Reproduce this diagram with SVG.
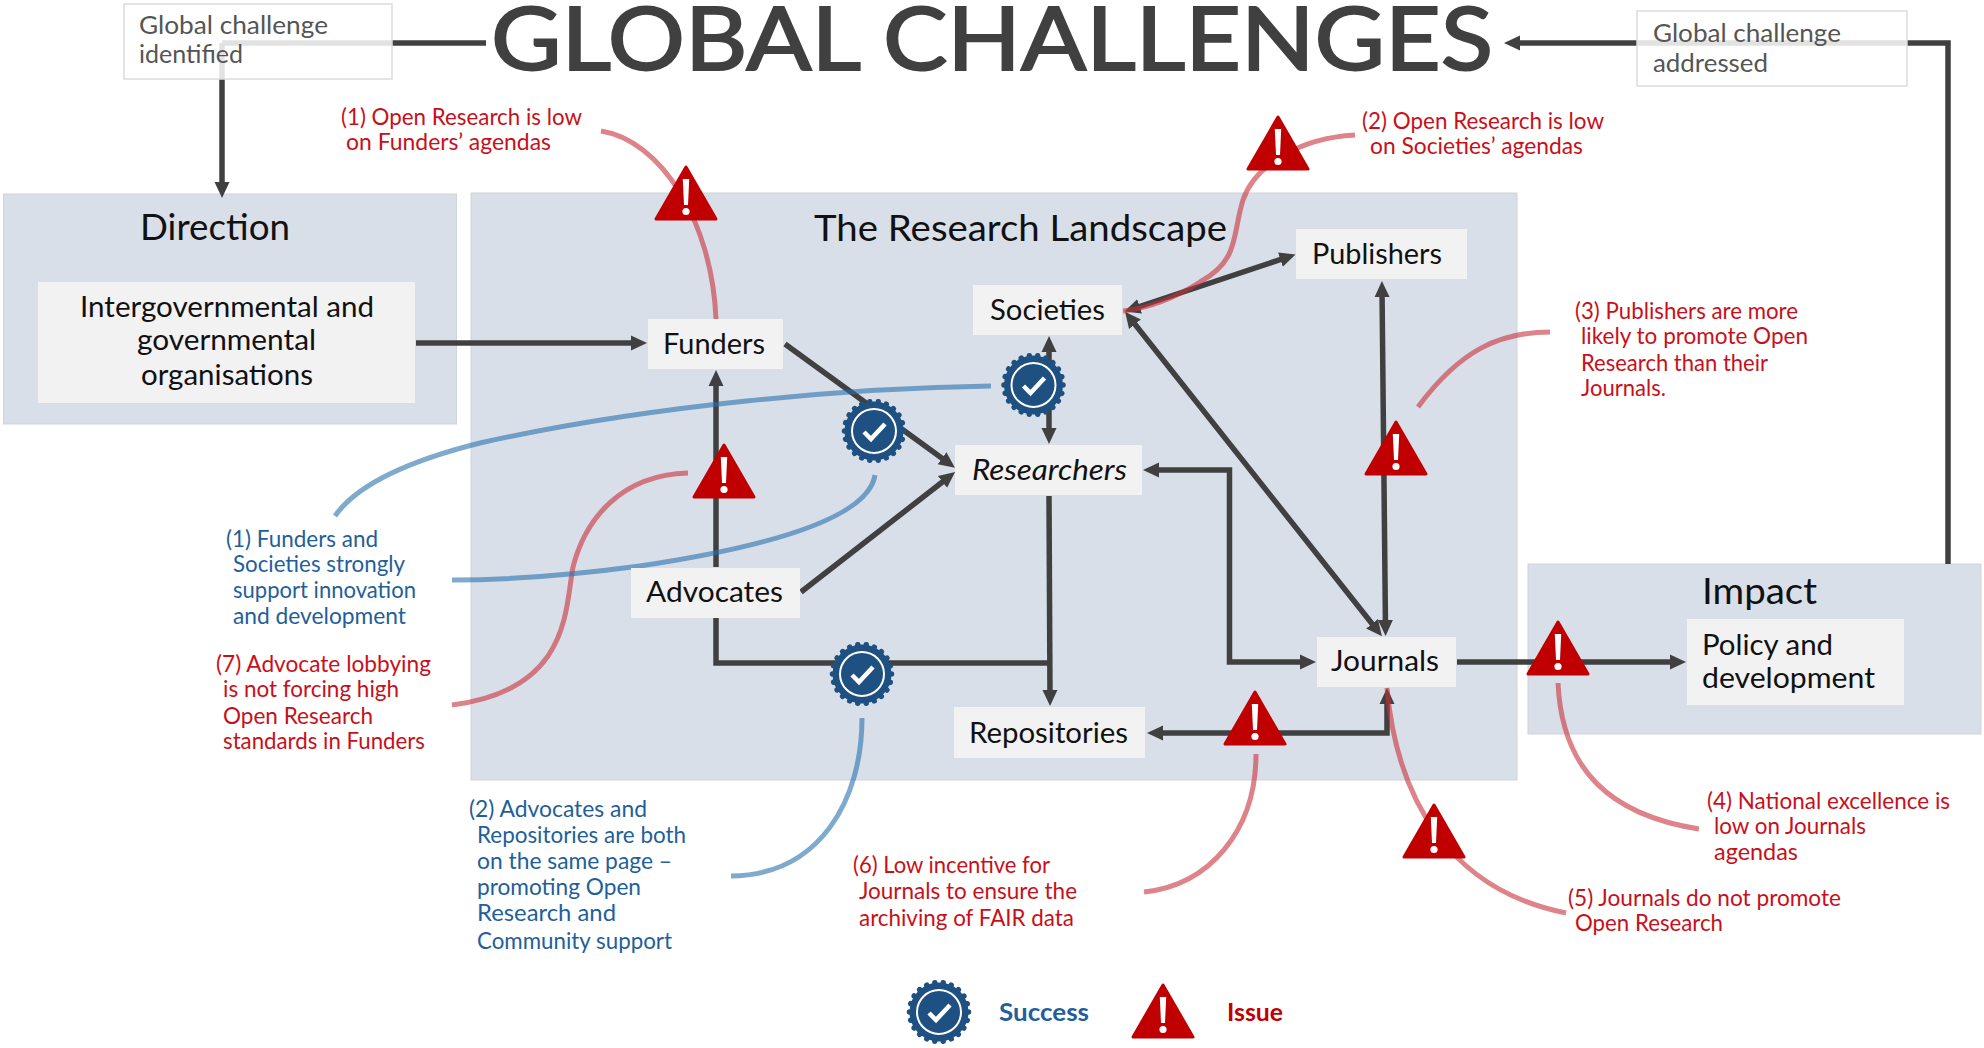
<svg xmlns="http://www.w3.org/2000/svg" xmlns:xlink="http://www.w3.org/1999/xlink" width="1984" height="1048" viewBox="0 0 1984 1048">
<style>
text{font-family:"Lato","Open Sans","Liberation Sans",sans-serif;transform:translateY(1px)}
.panel{fill:#d9dfe9;stroke:#cfd3da;stroke-width:1}
.box{fill:#f2f2f2}
.note{fill:#fff;fill-opacity:.85;stroke:#dcdcdc;stroke-width:1.5}
.n{font-size:29px;fill:#111}
.h{font-size:36px;fill:#111}
.g{font-size:25px;fill:#555}
.r{font-size:23px;fill:#c8101a}
.b{font-size:23px;fill:#1f5f9a}
.a{fill:none;stroke:#404040;stroke-width:5.5}
.cr{fill:none;stroke:#c8303a;stroke-opacity:.6;stroke-width:5}
.cb{fill:none;stroke:#2a72ae;stroke-opacity:.6;stroke-width:5}
</style>
<defs>
<marker id="arr" markerUnits="userSpaceOnUse" markerWidth="18" markerHeight="18" viewBox="0 0 18 18" refX="8" refY="9" orient="auto-start-reverse"><path d="M0,1.500 L16,9 L0,16.500 Z" fill="#404040"/></marker>
<symbol id="badge" overflow="visible" viewBox="-34 -34 68 68" width="68" height="68">
<circle r="29.5" fill="#1f5082"/>
<circle r="29.500" fill="none" stroke="#1f5082" stroke-width="5.500" stroke-linecap="round" pathLength="44" stroke-dasharray="0.01 1.99"/>
<circle r="22" fill="none" stroke="#fff" stroke-width="2"/>
<path d="M-10,1 L-3,8 L11,-7" fill="none" stroke="#fff" stroke-width="4.500"/>
</symbol>
<symbol id="warn" overflow="visible" viewBox="-32 0 64 57" width="64" height="57">
<path d="M0,2 L30,54 H-30 Z" fill="#c00000" stroke="#c00000" stroke-width="3" stroke-linejoin="round"/>
<path d="M-3.200,14 H3.200 L2,40 H-2 Z" fill="#fff"/>
<circle cy="46.500" r="3.600" fill="#fff"/>
</symbol>
</defs>
<rect width="1984" height="1048" fill="#fff"/>
<g id="panels">
<g id="panel-direction"><rect class="panel" x="3.500" y="194" width="453" height="230"/><text class="h" x="140" y="239" textLength="150" lengthAdjust="spacingAndGlyphs">Direction</text></g>
<g id="panel-landscape"><rect class="panel" x="471" y="193" width="1046" height="587"/><text class="h" x="814" y="240" textLength="413" lengthAdjust="spacingAndGlyphs">The Research Landscape</text></g>
<g id="panel-impact"><rect class="panel" x="1528" y="564" width="453" height="170"/><text class="h" x="1702" y="603" textLength="115" lengthAdjust="spacingAndGlyphs">Impact</text></g>
</g>
<g id="connectors">
<path class="a" d="M222,43 V190" marker-end="url(#arr)"/>
<path class="a" d="M222,43 H486"/>
<path class="a" d="M1948,564 V43 H1512" marker-end="url(#arr)"/>
<path class="a" d="M416,343 H639" marker-end="url(#arr)"/>
<path class="a" d="M716,567 V378" marker-end="url(#arr)"/>
<path class="a" d="M785,344 L948.500,463" marker-end="url(#arr)"/>
<path class="a" d="M801,592 L948.800,477" marker-end="url(#arr)"/>
<path class="a" d="M1049,344 V436" marker-start="url(#arr)" marker-end="url(#arr)"/>
<path class="a" d="M1132,309 L1288,257" marker-start="url(#arr)" marker-end="url(#arr)"/>
<path class="a" d="M1130,318 L1377,630" marker-start="url(#arr)" marker-end="url(#arr)"/>
<path class="a" d="M1382,289 L1385.500,628" marker-start="url(#arr)" marker-end="url(#arr)"/>
<path class="a" d="M1151,470 H1229.500 V662 H1308" marker-start="url(#arr)" marker-end="url(#arr)"/>
<path class="a" d="M1049,496 L1050,698" marker-end="url(#arr)"/>
<path class="a" d="M716,617 V663 H1050"/>
<path class="a" d="M1457,662 H1678" marker-end="url(#arr)"/>
<path class="a" d="M1155,733 H1387 V696" marker-start="url(#arr)" marker-end="url(#arr)"/>
<path class="cr" d="M601,131 C660,140 712,220 716,319"/>
<path class="cr" d="M1355,135 C1300,138 1255,165 1243,200 C1232,235 1240,260 1200,282 C1175,298 1150,308 1123,311"/>
<path class="cr" d="M1550,332 C1500,332 1460,350 1418,407"/>
<path class="cr" d="M1558,683 C1562,770 1610,815 1699,829"/>
<path class="cr" d="M1387,688 C1397,800 1450,890 1566,913"/>
<path class="cr" d="M1256,754 C1256,830 1210,885 1144,892"/>
<path class="cr" d="M688,473 C620,475 585,520 573,567 C565,610 570,690 452,705"/>
<path class="cb" d="M991,386 C850,388 650,405 480,443 C420,458 360,480 335,516"/>
<path class="cb" d="M875,475 C868,520 760,548 640,566 C580,574 510,580 452,580"/>
<path class="cb" d="M862,718 C862,800 820,875 731,876"/>
</g>
<g id="title"><text style="transform:none" x="491" y="70" font-size="88" fill="#404040" stroke="#404040" stroke-width="2" textLength="1002" lengthAdjust="spacingAndGlyphs">GLOBAL CHALLENGES</text></g>
<g id="node-identified"><rect class="note" x="124" y="4" width="268" height="75"/><text class="g" x="139" y="33" textLength="189" lengthAdjust="spacingAndGlyphs">Global challenge</text><text class="g" x="139" y="62" textLength="104" lengthAdjust="spacingAndGlyphs">identified</text></g>
<g id="node-addressed"><rect class="note" x="1637" y="11" width="270" height="75"/><text class="g" x="1653" y="41" textLength="188" lengthAdjust="spacingAndGlyphs">Global challenge</text><text class="g" x="1653" y="71" textLength="115" lengthAdjust="spacingAndGlyphs">addressed</text></g>
<g id="node-intergov"><rect class="box" x="38" y="282" width="377" height="121"/><text class="n" x="80" y="316" textLength="294" lengthAdjust="spacingAndGlyphs">Intergovernmental and</text><text class="n" x="137" y="349" textLength="179" lengthAdjust="spacingAndGlyphs">governmental</text><text class="n" x="141" y="384" textLength="172" lengthAdjust="spacingAndGlyphs">organisations</text></g>
<g id="node-funders"><rect class="box" x="648" y="319" width="135" height="50"/><text class="n" x="663" y="353" textLength="102" lengthAdjust="spacingAndGlyphs">Funders</text></g>
<g id="node-societies"><rect class="box" x="973" y="285" width="149" height="50"/><text class="n" x="990" y="319" textLength="115" lengthAdjust="spacingAndGlyphs">Societies</text></g>
<g id="node-publishers"><rect class="box" x="1296" y="229" width="171" height="50"/><text class="n" x="1312" y="263" textLength="130" lengthAdjust="spacingAndGlyphs">Publishers</text></g>
<g id="node-researchers"><rect class="box" x="955" y="445" width="187" height="50"/><text class="n" font-style="italic" x="972" y="479" textLength="155" lengthAdjust="spacingAndGlyphs">Researchers</text></g>
<g id="node-journals"><rect class="box" x="1317" y="637" width="139" height="50"/><text class="n" x="1331" y="670" textLength="108" lengthAdjust="spacingAndGlyphs">Journals</text></g>
<g id="node-repositories"><rect class="box" x="954" y="707" width="191" height="51"/><text class="n" x="969" y="742" textLength="159" lengthAdjust="spacingAndGlyphs">Repositories</text></g>
<g id="node-advocates"><rect class="box" x="631" y="568" width="169" height="50"/><text class="n" x="646" y="601" textLength="137" lengthAdjust="spacingAndGlyphs">Advocates</text></g>
<g id="node-policy"><rect class="box" x="1687" y="619" width="217" height="86"/><text class="n" x="1702" y="654" textLength="131" lengthAdjust="spacingAndGlyphs">Policy and</text><text class="n" x="1702" y="687" textLength="173" lengthAdjust="spacingAndGlyphs">development</text></g>
<g id="badges">
<use href="#badge" x="999.500" y="351"/>
<use href="#badge" x="840" y="397"/>
<use href="#badge" x="828" y="640"/>
<use href="#badge" x="905" y="978"/>
</g>
<g id="warnings">
<use href="#warn" x="654" y="165"/>
<use href="#warn" x="1246" y="115"/>
<use href="#warn" x="1364" y="420"/>
<use href="#warn" x="692" y="443"/>
<use href="#warn" x="1526" y="620"/>
<use href="#warn" x="1223" y="690"/>
<use href="#warn" x="1402" y="803"/>
<use href="#warn" x="1131" y="983"/>
</g>
<g id="issue-labels">
<text class="r" x="341" y="124" textLength="241" lengthAdjust="spacingAndGlyphs">(1) Open Research is low</text>
<text class="r" x="346" y="149" textLength="205" lengthAdjust="spacingAndGlyphs">on Funders’ agendas</text>
<text class="r" x="1362" y="128" textLength="242" lengthAdjust="spacingAndGlyphs">(2) Open Research is low</text>
<text class="r" x="1370" y="153" textLength="213" lengthAdjust="spacingAndGlyphs">on Societies’ agendas</text>
<text class="r" x="1575" y="318" textLength="223" lengthAdjust="spacingAndGlyphs">(3) Publishers are more</text>
<text class="r" x="1581" y="343" textLength="227" lengthAdjust="spacingAndGlyphs">likely to promote Open</text>
<text class="r" x="1581" y="370" textLength="187" lengthAdjust="spacingAndGlyphs">Research than their</text>
<text class="r" x="1581" y="395" textLength="85" lengthAdjust="spacingAndGlyphs">Journals.</text>
<text class="r" x="1707" y="808" textLength="243" lengthAdjust="spacingAndGlyphs">(4) National excellence is</text>
<text class="r" x="1714" y="833" textLength="152" lengthAdjust="spacingAndGlyphs">low on Journals</text>
<text class="r" x="1714" y="859" textLength="84" lengthAdjust="spacingAndGlyphs">agendas</text>
<text class="r" x="1568" y="905" textLength="273" lengthAdjust="spacingAndGlyphs">(5) Journals do not promote</text>
<text class="r" x="1575" y="930" textLength="148" lengthAdjust="spacingAndGlyphs">Open Research</text>
<text class="r" x="853" y="872" textLength="197" lengthAdjust="spacingAndGlyphs">(6) Low incentive for</text>
<text class="r" x="859" y="898" textLength="218" lengthAdjust="spacingAndGlyphs">Journals to ensure the</text>
<text class="r" x="859" y="925" textLength="215" lengthAdjust="spacingAndGlyphs">archiving of FAIR data</text>
<text class="r" x="216" y="671" textLength="215" lengthAdjust="spacingAndGlyphs">(7) Advocate lobbying</text>
<text class="r" x="223" y="696" textLength="176" lengthAdjust="spacingAndGlyphs">is not forcing high</text>
<text class="r" x="223" y="723" textLength="150" lengthAdjust="spacingAndGlyphs">Open Research</text>
<text class="r" x="223" y="748" textLength="202" lengthAdjust="spacingAndGlyphs">standards in Funders</text>
</g>
<g id="success-labels">
<text class="b" x="226" y="546" textLength="152" lengthAdjust="spacingAndGlyphs">(1) Funders and</text>
<text class="b" x="233" y="571" textLength="172" lengthAdjust="spacingAndGlyphs">Societies strongly</text>
<text class="b" x="233" y="597" textLength="183" lengthAdjust="spacingAndGlyphs">support innovation</text>
<text class="b" x="233" y="623" textLength="173" lengthAdjust="spacingAndGlyphs">and development</text>
<text class="b" x="469" y="816" textLength="178" lengthAdjust="spacingAndGlyphs">(2) Advocates and</text>
<text class="b" x="477" y="842" textLength="209" lengthAdjust="spacingAndGlyphs">Repositories are both</text>
<text class="b" x="477" y="868" textLength="195" lengthAdjust="spacingAndGlyphs">on the same page –</text>
<text class="b" x="477" y="894" textLength="164" lengthAdjust="spacingAndGlyphs">promoting Open</text>
<text class="b" x="477" y="920" textLength="139" lengthAdjust="spacingAndGlyphs">Research and</text>
<text class="b" x="477" y="948" textLength="195" lengthAdjust="spacingAndGlyphs">Community support</text>
</g>
<g id="legend">
<text x="999" y="1020" font-size="25" font-weight="700" fill="#1f5f9a" textLength="90" lengthAdjust="spacingAndGlyphs">Success</text>
<text x="1227" y="1020" font-size="25" font-weight="700" fill="#c00000" textLength="56" lengthAdjust="spacingAndGlyphs">Issue</text>
</g>
</svg>
